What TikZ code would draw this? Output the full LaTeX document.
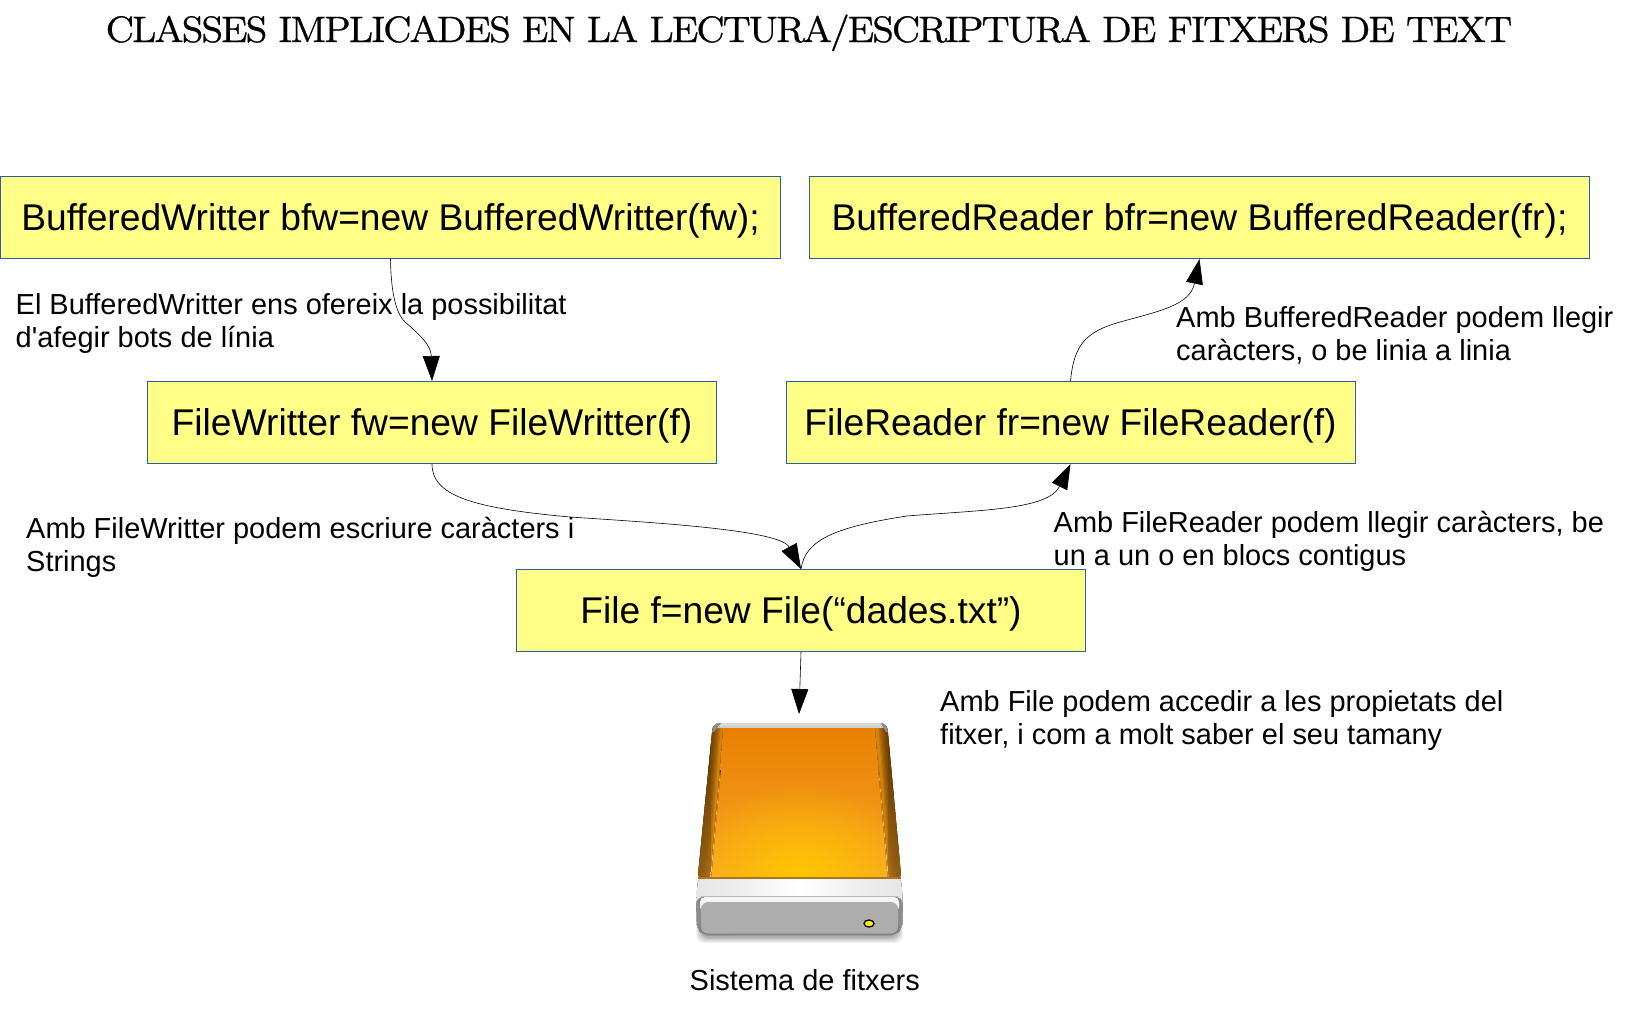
\documentclass[tikz,border=0pt]{standalone}
\usepackage{fontspec}
\newfontfamily\plainfont{Liberation Sans}
\newfontfamily\titlefont{Latin Modern Roman}[FakeBold=0.6,LetterSpace=-5.5]
\usetikzlibrary{arrows.meta,fadings}
\definecolor{boxfill}{HTML}{FFFF88}
\definecolor{boxline}{HTML}{2F5CA8}
\definecolor{orTop}{HTML}{E87F02}
\definecolor{orBot}{HTML}{F9A526}
\definecolor{orGlow}{HTML}{FFC800}
\definecolor{sideA}{HTML}{6E4206}
\definecolor{sideB}{HTML}{E8900E}
\pgfdeclarehorizontalshading{diskband}{100bp}{
  color(0bp)=(black!65); color(2bp)=(black!45); color(5bp)=(black!15); color(35bp)=(black!7);
  color(50bp)=(white); color(65bp)=(black!7); color(95bp)=(black!15); color(98bp)=(black!45); color(100bp)=(black!65)}
\tikzfading[name=glowfade, inner color=transparent!0, outer color=transparent!100]
\tikzset{
  x=1pt,y=-1pt,
  classbox/.style={draw=boxline,fill=boxfill,line width=1pt,inner sep=0pt,
    minimum height=82pt,text height=33pt,text depth=8pt,font=\plainfont\fontsize{37.2}{40}\selectfont},
  note/.style={anchor=base west,inner sep=0pt,align=left,font=\plainfont\fontsize{28.95}{33}\selectfont},
  link/.style={line width=.6pt,-{Triangle[length=25pt,width=17pt]}},
  titletext/.style={inner sep=0pt,anchor=base}
}
\begin{document}
\begin{tikzpicture}
\useasboundingbox (0,0) rectangle (1648,1009);

\node[titletext] (title) at (809,42) {\scalebox{4.6}{\titlefont\fontsize{8}{9}\selectfont CLASSES IMPLICADES EN LA LECTURA/ESCRIPTURA DE FITXERS DE TEXT}};

\node[classbox,minimum width=780pt] (bw) at (390.5,217.5) {BufferedWritter bfw=new BufferedWritter(fw);};
\node[classbox,minimum width=780pt] (br) at (1199.5,217.5) {BufferedReader bfr=new BufferedReader(fr);};
\node[classbox,minimum width=569pt] (fw) at (432,422.5) {FileWritter fw=new FileWritter(f)};
\node[classbox,minimum width=569pt] (fr) at (1070.5,422.5) {FileReader fr=new FileReader(f)};
\node[classbox,minimum width=569pt] (file) at (801,610.5) {File f=new File(“dades.txt”)};

\node[note] (n1) at (15.5,347) {El BufferedWritter ens ofereix la possibilitat\\d'afegir bots de línia};
\node[note] (n2) at (26,571) {Amb FileWritter podem escriure caràcters i\\Strings};
\node[note] (n3) at (1176,360) {Amb BufferedReader podem llegir\\caràcters, o be linia a linia};
\node[note] (n4) at (1053.5,565) {Amb FileReader podem llegir caràcters, be\\un a un o en blocs contigus};
\node[note] (n5) at (940,744.5) {Amb File podem accedir a les propietats del\\fitxer, i com a molt saber el seu tamany};
\node[note] (n6) at (689.5,990) {Sistema de fitxers};

% disk
\foreach \i/\o in {7/.05,6/.05,5/.05,4/.06,3/.07,2/.08}
  \fill[black,opacity=\o,rounded corners=8pt] (703-\i,905) rectangle (896+\i,936+\i);
\begin{scope}
  \clip[rounded corners=7pt] (713,723) -- (887,723) -- (901.5,880) -- (697.5,880) -- cycle;
  \fill[top color=orTop,bottom color=orBot] (690,723) rectangle (910,880);
  \fill[orGlow,path fading=glowfade] (800,878) ellipse (125 and 95);
  \foreach \t in {0,1,...,9}{
    \pgfmathsetmacro{\mx}{\t*\t}
    \fill[sideB!\mx!sideA] ({697+1.3*\t},880) -- ({710+1.2*\t},726) -- (723,726) -- (710.5,880) -- cycle;
    \fill[sideB!\mx!sideA] ({902-1.3*\t},880) -- ({889-1.2*\t},726) -- (875,726) -- (888.5,880) -- cycle;
  }
  \fill[top color=orTop!60!black,bottom color=orBot,opacity=.45] (697,726) -- (711,726) -- (711,880) -- (697,880) -- cycle;
  \fill[top color=orTop!60!black,bottom color=orBot,opacity=.45] (888,726) -- (902,726) -- (902,880) -- (888,880) -- cycle;
  \fill[top color=orBot,bottom color=white!35!orBot] (710,880) -- (720,770) -- (720.7,770) -- (711,880) -- cycle;
  \fill[top color=orBot,bottom color=white!35!orBot] (889,880) -- (879,770) -- (878.3,770) -- (888,880) -- cycle;
  \fill[top color=black!12,bottom color=black!20] (690,722) rectangle (910,727.5);
  \fill[black!45] (690,722) -- (722,722) -- (714,732) -- (711,732) -- cycle;
  \fill[black!45] (910,722) -- (880,722) -- (886,732) -- (889,732) -- cycle;
\end{scope}
\fill[shading=diskband,rounded corners=6pt]
  (698,877) -- (696,904) -- (696.5,928) -- (703,935.5) -- (896,935.5) -- (902.5,928) -- (903,904) -- (901,877) -- cycle;
\fill[black!45,rounded corners=7pt] (696,897) -- (696.5,928) -- (703,935.5) -- (896,935.5) -- (902.5,928) -- (903,897) -- cycle;
\fill[orBot!70!black] (698,877) rectangle (901,878.5);
\fill[black!28] (701,895.5) rectangle (898,897);
\fill[black!4,rounded corners=5pt] (700,897) rectangle (899,912);
\fill[black!32,rounded corners=7pt] (701,902) rectangle (898,934);
\draw[black!55,line width=.8pt,rounded corners=7pt] (700,925) -- (700.5,934) -- (898.5,934) -- (899,925);
\draw[black,line width=1.3pt,fill=yellow!95!white] (869,923.5) ellipse (5 and 3.5);

% connectors
\coordinate (disktop) at (799,714);
\draw[link] (bw.south) .. controls (391,290) and (395,312) .. (405,322) .. controls (420,335) and (431,345) .. (fw.north);
\draw[link] (fw.south) .. controls (432,495) and (470,508) .. (570,517) .. controls (660,523) and (780,530) .. (file.north);
\draw[link] (file.north) .. controls (805,540) and (835,527) .. (907,516) .. controls (980,510) and (1048,510) .. (fr.south);
\draw[link] (fr.north) .. controls (1074,345) and (1085,332) .. (1120,322) .. controls (1160,311) and (1190,305) .. (br.south);
\draw[link] (file.south) -- (disktop);
\end{tikzpicture}
\end{document}
